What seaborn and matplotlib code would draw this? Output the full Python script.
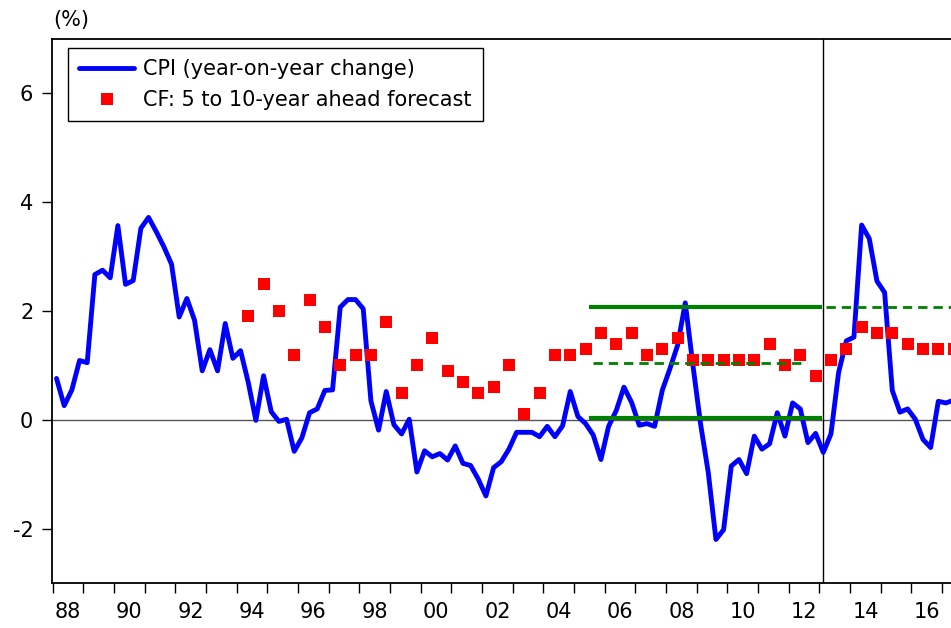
import numpy as np
import pandas as pd
import matplotlib
matplotlib.use("Agg")
import matplotlib.pyplot as plt
import seaborn as sns
from matplotlib.lines import Line2D

# ---------------- data ----------------
cpi_start = "1988Q1"
cpi = [0.76, 0.26, 0.55, 1.09, 1.05, 2.67, 2.75, 2.61, 3.57, 2.49,
       2.56, 3.52, 3.72, 3.46, 3.18, 2.86, 1.89, 2.23, 1.83, 0.90,
       1.29, 0.90, 1.77, 1.13, 1.27, 0.69, -0.01, 0.81, 0.15, -0.03,
       0.01, -0.58, -0.33, 0.13, 0.20, 0.54, 0.55, 2.07, 2.21, 2.21,
       2.04, 0.35, -0.19, 0.52, -0.09, -0.26, 0.01, -0.96, -0.57, -0.68,
       -0.62, -0.74, -0.48, -0.80, -0.84, -1.09, -1.40, -0.88, -0.77, -0.54,
       -0.23, -0.23, -0.23, -0.31, -0.12, -0.31, -0.11, 0.52, 0.06, -0.07,
       -0.28, -0.73, -0.12, 0.17, 0.60, 0.32, -0.10, -0.07, -0.12, 0.54,
       0.94, 1.37, 2.15, 1.00, -0.08, -0.97, -2.20, -2.02, -0.85, -0.73,
       -0.99, -0.30, -0.54, -0.44, 0.13, -0.30, 0.31, 0.20, -0.42, -0.25,
       -0.60, -0.26, 0.87, 1.45, 1.52, 3.58, 3.33, 2.55, 2.34, 0.54,
       0.14, 0.20, 0.01, -0.36, -0.51, 0.34, 0.31, 0.36]

cf_start = "1994Q2"   # semi-annual surveys (Q2 and Q4)
cf = [1.9, 2.5, 2.0, 1.2, 2.2, 1.7, 1.0, 1.2, 1.2, 1.8,
      0.5, 1.0, 1.5, 0.9, 0.7, 0.5, 0.6, 1.0, 0.1, 0.5,
      1.2, 1.2, 1.3, 1.6, 1.4, 1.6, 1.2, 1.3, 1.5, 1.1,
      1.1, 1.1, 1.1, 1.1, 1.4, 1.0, 1.2, 0.8, 1.1, 1.3,
      1.7, 1.6, 1.6, 1.4, 1.3, 1.3, 1.3]

# reference band (mean, upper, lower) for 2005Q3-2012, and upper after 2013
band_upper = 2.07
band_lower = 0.03
band_mid = 1.05
post_upper = 2.07
band_start, band_end = "2005Q3", "2012Q4"
mid_start, mid_end = "2005Q3", "2012Q3"
post_start, post_end = "2013Q1", "2017Q2"
regime_break = "2013Q1"

year_ticks = list(range(1988, 2018))
year_labels = ["88", "90", "92", "94", "96", "98", "00", "02", "04", "06",
               "08", "10", "12", "14", "16"]
y_ticks = [-2, 0, 2, 4, 6]

def qpos(p):
    p = pd.Period(p, freq="Q")
    return p.year + (p.quarter - 0.5) / 4.0

def qedge(p, end=False):
    p = pd.Period(p, freq="Q")
    return p.year + (p.quarter - (0 if end else 1)) / 4.0

q = pd.period_range(cpi_start, periods=len(cpi), freq="Q")
df_cpi = pd.DataFrame({"t": [x.year + (x.quarter - 0.5) / 4 for x in q], "v": cpi})
qc = pd.period_range(cf_start, periods=2 * len(cf), freq="Q")[::2]
df_cf = pd.DataFrame({"t": [x.year + (x.quarter - 0.5) / 4 for x in qc], "v": cf})

# ---------------- style ----------------
sns.set_theme(style="white")
plt.rcParams["font.family"] = ["DejaVu Sans"]
plt.rcParams["axes.unicode_minus"] = False
plt.rcParams["text.color"] = "black"
FS = 15

W, H = 951, 628
fig = plt.figure(figsize=(W / 100, H / 100), dpi=100)
left_px, top_px, bottom_px = 51.7, 39, 583
ax = fig.add_axes([left_px / W, 1 - bottom_px / H, 1 - left_px / W, (bottom_px - top_px) / H])

px_per_year = 30.67
x0 = 1988 - (52.7 - left_px) / px_per_year
x1 = x0 + (W - left_px) / px_per_year
ax.set_xlim(x0, x1)
ax.set_ylim(-3, 7)

ax.axhline(0, color="#555555", lw=1.0, zorder=1)
ax.axvline(qpos(regime_break), color="black", lw=1.0, zorder=1)

sns.lineplot(data=df_cpi, x="t", y="v", ax=ax, color="#0000FF", lw=3.5,
             zorder=3, legend=False)
sns.scatterplot(data=df_cf, x="t", y="v", ax=ax, color="#FF0000", marker="s",
                s=76, linewidth=0, zorder=4, legend=False)

green = "#008000"
ax.plot([qedge(band_start), qedge(band_end, True) + 0.07], [band_upper] * 2,
        color=green, lw=3.0, solid_capstyle="butt", zorder=5)
ax.plot([qedge(band_start), qedge(band_end, True) + 0.07], [band_lower] * 2,
        color=green, lw=3.0, solid_capstyle="butt", zorder=5)
ax.plot([qedge(mid_start) + 0.12, qedge(mid_end, True) - 0.17], [band_mid] * 2,
        color=green, lw=2.0, ls=(0, (3.35, 2.15)), zorder=5)
ax.plot([qedge(post_start) + 0.2, qedge(post_end, True)], [post_upper] * 2,
        color=green, lw=2.0, ls=(0, (3.35, 2.15)), zorder=5)

# axes cosmetics
for s in ["left", "bottom", "top"]:
    ax.spines[s].set_color("black")
    ax.spines[s].set_linewidth(1.3)
ax.spines["right"].set_visible(False)

ax.set_yticks(y_ticks)
ax.set_yticklabels([str(v) for v in y_ticks])
ax.set_xticks(year_ticks)
ax.set_xticklabels([])
ax.set_xticks([int(("19" if int(l) > 50 else "20") + l) + 0.5 for l in year_labels], minor=True)
ax.set_xticklabels(year_labels, minor=True)
ax.tick_params(axis="x", which="major", direction="out", length=7.2, width=1.0,
               color="black", bottom=True)
ax.tick_params(axis="x", which="minor", length=0, pad=14, labelsize=FS,
               labelcolor="black", bottom=True)
ax.tick_params(axis="y", which="major", direction="out", length=7.2, width=1.0,
               color="black", left=True, pad=6, labelsize=FS, labelcolor="black")
ax.set_xlabel("")
ax.set_ylabel("")

fig.text(53 / W, 1 - 20 / H, "(%)", ha="left", va="center", fontsize=FS, color="black")

handles = [Line2D([], [], color="#0000FF", lw=3.5),
           Line2D([], [], color="#FF0000", marker="s", ls="none", markersize=8.7,
                  markeredgewidth=0)]
labels = ["CPI (year-on-year change)", "CF: 5 to 10-year ahead forecast"]
axw = W - left_px
axh = bottom_px - top_px
leg = ax.legend(handles, labels, loc="upper left",
                bbox_to_anchor=((68 - left_px) / axw, 1 - (48 - top_px) / axh),
                borderaxespad=0, fontsize=FS, frameon=True, fancybox=False,
                edgecolor="black", framealpha=1, handlelength=2.6,
                handletextpad=0.45, labelspacing=0.5, borderpad=0.55,
                labelcolor="black")
leg.get_frame().set_linewidth(1.0)
leg.set_zorder(10)

fig.savefig("out.png", dpi=100)
